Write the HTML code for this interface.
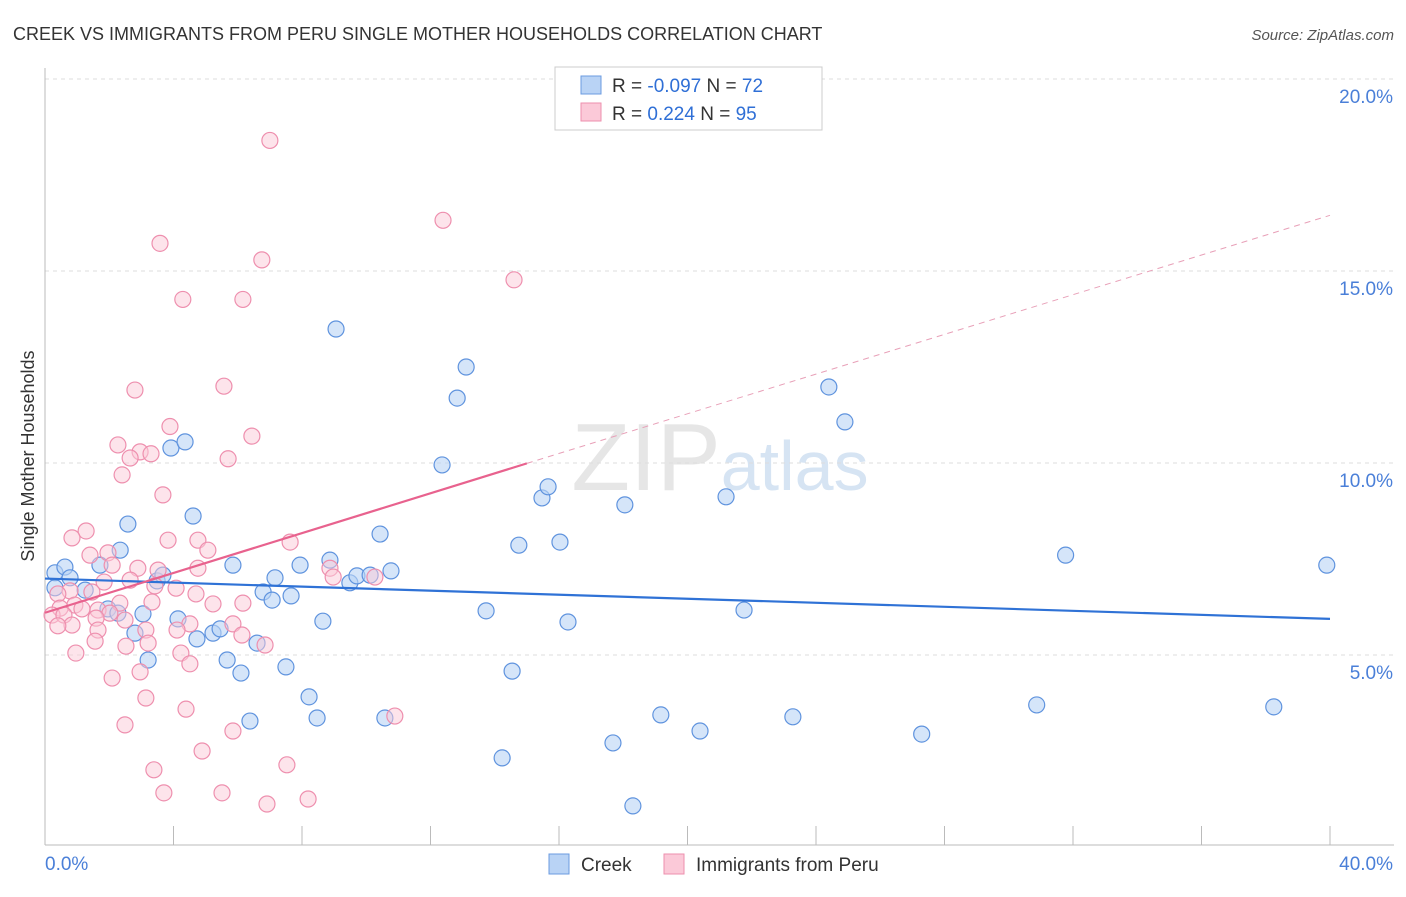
<!DOCTYPE html>
<html><head><meta charset="utf-8"><style>
body{margin:0;background:#fff;font-family:"Liberation Sans",sans-serif;}
svg text{font-family:"Liberation Sans",sans-serif;}
</style></head><body>
<svg id="chart" width="1406" height="892" xmlns="http://www.w3.org/2000/svg">
<text x="13" y="40" font-size="18" fill="#333">CREEK VS IMMIGRANTS FROM PERU SINGLE MOTHER HOUSEHOLDS CORRELATION CHART</text>
<text x="1394" y="40" font-size="15" fill="#555" text-anchor="end" font-style="italic">Source: ZipAtlas.com</text>
<text x="720" y="490" font-size="96" fill="#e6e6e6" text-anchor="middle" font-family="Liberation Serif">ZIP<tspan fill="#d6e4f3" font-family="Liberation Sans" font-size="70">atlas</tspan></text>
<g id="grid"></g>
<g id="axes"></g>
<g id="marks"></g>
<text transform="translate(34,456) rotate(-90)" font-size="18" fill="#333" text-anchor="middle">Single Mother Households</text>
<g>
<rect x="555" y="67" width="267" height="63" fill="#fff" stroke="#ccc"/>
<rect x="581" y="76" width="20" height="18" fill="#b9d3f5" stroke="#6b9be0"/>
<rect x="581" y="103" width="20" height="18" fill="#fbc9d8" stroke="#ee8fae"/>
<text x="612" y="92" font-size="19" fill="#333">R = <tspan fill="#2f6fd6">-0.097</tspan>   N = <tspan fill="#2f6fd6">72</tspan></text>
<text x="612" y="120" font-size="19" fill="#333">R =   <tspan fill="#2f6fd6">0.224</tspan>   N = <tspan fill="#2f6fd6">95</tspan></text>
</g>
<g>
<rect x="549" y="854" width="20" height="20" fill="#b9d3f5" stroke="#6b9be0"/>
<text x="581" y="871" font-size="19" fill="#333">Creek</text>
<rect x="664" y="854" width="20" height="20" fill="#fbc9d8" stroke="#ee8fae"/>
<text x="696" y="871" font-size="19" fill="#333">Immigrants from Peru</text>
</g>
</svg>
<script>
const yTicks=[5,10,15,20];
const yTickLabels=["5.0%","10.0%","15.0%","20.0%"];
const xTickLabels=["0.0%","40.0%"];
const creekX=[0.31,0.62,0.78,0.31,1.25,1.71,2.58,2.34,1.96,2.27,3.05,2.8,3.21,3.49,3.67,4.14,3.92,4.36,4.61,4.73,5.23,5.45,5.67,5.85,6.1,6.38,6.6,6.79,7.07,7.16,7.5,7.66,7.94,8.22,8.47,8.65,8.87,9.06,9.49,9.71,10.12,10.43,10.58,10.77,12.36,12.83,13.11,13.73,14.23,14.54,14.75,15.47,15.66,16.03,16.28,17.68,18.05,18.3,19.17,20.39,21.2,21.76,23.28,24.4,24.9,27.29,30.87,31.77,38.25,39.9];
const creekY=[7.14,7.29,7.01,6.75,6.69,7.34,8.41,7.73,6.2,6.09,6.07,5.57,4.87,6.93,7.08,5.94,10.39,10.55,8.62,5.42,5.57,5.68,4.87,7.34,4.53,3.28,5.31,6.64,6.43,7.01,4.69,6.54,7.34,3.91,3.36,5.88,7.47,13.49,6.88,7.06,7.08,8.15,3.36,7.19,9.95,11.69,12.5,6.15,2.32,4.58,7.86,9.09,9.38,7.94,5.86,2.71,8.91,1.07,3.44,3.02,9.12,6.17,3.39,11.98,11.07,2.94,3.7,7.6,3.65,7.34];
const peruX=[7.0,12.39,3.58,6.75,14.6,4.29,6.16,2.8,5.57,3.89,6.44,2.27,2.96,2.65,3.3,5.7,2.4,3.67,1.28,0.84,4.76,3.83,7.63,5.07,1.4,1.96,2.09,2.89,4.76,8.87,3.52,8.97,10.27,1.84,2.65,4.08,3.42,0.78,1.46,0.4,4.7,6.16,5.23,3.33,2.33,0.93,0.47,1.15,1.65,2.02,0.22,0.59,1.59,2.49,4.51,5.85,0.84,0.4,1.65,3.14,4.11,6.13,1.56,3.21,6.85,2.52,4.23,0.96,4.51,2.96,2.09,3.14,4.39,10.89,2.49,5.85,4.89,7.53,3.39,3.7,5.51,8.19,6.91];
const peruY=[18.4,16.32,15.72,15.29,14.77,14.26,14.26,11.9,12.0,10.95,10.7,10.47,10.29,10.13,10.24,10.11,9.69,9.17,8.23,8.05,7.99,7.99,7.94,7.73,7.6,7.66,7.34,7.26,7.26,7.26,7.21,7.03,7.03,6.9,6.95,6.74,6.8,6.67,6.64,6.59,6.59,6.35,6.33,6.38,6.35,6.3,6.22,6.2,6.17,6.09,6.04,6.04,5.96,5.91,5.81,5.81,5.78,5.76,5.65,5.65,5.65,5.52,5.36,5.31,5.26,5.23,5.05,5.05,4.77,4.56,4.4,3.88,3.59,3.41,3.18,3.02,2.5,2.14,2.01,1.41,1.41,1.25,1.12];
const creekTrend=[6.99,5.94];
const peruTrend=[6.1,9.99,16.45];
const peruTrendX=[0,15];
const NS="http://www.w3.org/2000/svg";
const L=45,R=1330,T=79,B=847;
const xs=v=>L+(v/40)*(R-L);
const ys=v=>B-(v/20)*(B-T);
function mk(tag,attrs,parent){const e=document.createElementNS(NS,tag);for(const k in attrs)e.setAttribute(k,attrs[k]);parent.appendChild(e);return e;}
const grid=document.getElementById('grid'),axes=document.getElementById('axes'),marks=document.getElementById('marks');
yTicks.forEach((t,i)=>{
 const g=mk('line',{x1:L,x2:1394,y1:ys(t),y2:ys(t),stroke:'#ddd','stroke-dasharray':'4,4'},grid);
 
 
 const tx=mk('text',{x:1393,y:ys(t)+24,'font-size':19,fill:'#4a7fd8','text-anchor':'end'},axes);
 tx.textContent=yTickLabels[i];
 
 
});
const ax=mk('line',{x1:L,x2:L,y1:68,y2:845,stroke:'#bbb'},axes);


const bx=mk('line',{x1:L,x2:1394,y1:845,y2:845,stroke:'#bbb'},axes);


for(let i=1;i<=10;i++){const t=mk('line',{x1:xs(i*4),x2:xs(i*4),y1:826,y2:845,stroke:'#bbb'},axes);
 
 }
[[0,'start',45],[40,'end',1393]].forEach((d,i)=>{const t=mk('text',{x:d[2],y:870,'font-size':19,fill:'#4a7fd8','text-anchor':d[1]},axes);t.textContent=xTickLabels[i];
 
 });
creekX.forEach((x,i)=>{const c=mk('circle',{cx:xs(x),cy:ys(creekY[i]),r:8,fill:'#b9d3f5','fill-opacity':0.6,stroke:'#5f93de','stroke-width':1.2},marks);
 
 });
peruX.forEach((x,i)=>{const c=mk('circle',{cx:xs(x),cy:ys(peruY[i]),r:8,fill:'#fbc9d8','fill-opacity':0.5,stroke:'#ee8fae','stroke-width':1.2},marks);
 
 });
const ct=mk('line',{x1:xs(0),y1:ys(creekTrend[0]),x2:xs(40),y2:ys(creekTrend[1]),stroke:'#2f72d6','stroke-width':2.2},marks);


const pt=mk('line',{x1:xs(peruTrendX[0]),y1:ys(peruTrend[0]),x2:xs(peruTrendX[1]),y2:ys(peruTrend[1]),stroke:'#e8628e','stroke-width':2.2},marks);


const pd=mk('line',{x1:xs(peruTrendX[1]),y1:ys(peruTrend[1]),x2:xs(40),y2:ys(peruTrend[2]),stroke:'#e8a0b8','stroke-width':1,'stroke-dasharray':'6,5'},marks);


</script>
</body></html>
